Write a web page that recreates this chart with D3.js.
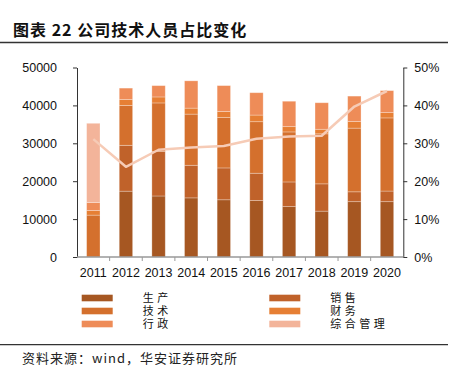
<!DOCTYPE html>
<html><head><meta charset="utf-8">
<script src="https://cdn.jsdelivr.net/npm/d3@7"></script>
<style>body{margin:0;background:#fff}svg{display:block}</style>
</head><body>
<svg id="c" width="453" height="385"></svg>
<script>
const years = ["2011","2012","2013","2014","2015","2016","2017","2018","2019","2020"];
const production = [0, 17370, 16100, 15600, 15100, 14900, 13300, 12100, 14600, 14600];
const sales      = [0, 12100, 11750, 8600, 8400, 7200, 6500, 7200, 2600, 2800];
const technical  = [11050, 10530, 12800, 13500, 13300, 13600, 13200, 13200, 16800, 19300];
const finance    = [1230, 1580, 1580, 1580, 1580, 1750, 1400, 1200, 1750, 1400];
const admin      = [2100, 2980, 2980, 7200, 6840, 5900, 6700, 7000, 6700, 5800];
const general    = [20900, 0, 0, 0, 0, 0, 0, 0, 0, 0];
const techRatio  = [0.311, 0.238, 0.283, 0.289, 0.293, 0.312, 0.318, 0.320, 0.397, 0.438];
const leftTicks  = [0, 10000, 20000, 30000, 40000, 50000];
const rightTicks = [0, 0.1, 0.2, 0.3, 0.4, 0.5];
const seriesNames = ["生产","销售","技术","财务","行政","综合管理"];
const seriesColors = ["#a65722","#c0622a","#d4702d","#e67f34","#ee8c58","#f3b49a"];

const svg = d3.select("#c");
const cn = "'Noto Sans CJK SC', sans-serif";
const lat = "'Liberation Sans', Arial, sans-serif";

// title
svg.append("text").attr("x",13).attr("y",36).attr("font-family",cn).attr("font-weight","bold")
  .attr("font-size",16).attr("letter-spacing",1).attr("fill","#111").text("图表 22 公司技术人员占比变化");
svg.append("line").attr("x1",0).attr("x2",448).attr("y1",42.5).attr("y2",42.5).attr("stroke","#333").attr("stroke-width",1.5);

const x = d3.scaleBand().domain(years).range([77,403.3]).paddingInner(0.59).paddingOuter(0.295);
const y = d3.scaleLinear().domain([0,50000]).range([257,67.5]);
const yr = d3.scaleLinear().domain([0,0.5]).range([257,67.5]);

const table = years.map((yv,i)=>({year:yv, "生产":production[i], "销售":sales[i], "技术":technical[i], "财务":finance[i], "行政":admin[i], "综合管理":general[i]}));
const stack = d3.stack().keys(seriesNames)(table);
const color = d3.scaleOrdinal().domain(seriesNames).range(seriesColors);

svg.append("g").selectAll("g").data(stack).join("g").attr("fill",d=>color(d.key))
  .selectAll("rect").data(d=>d).join("rect")
  .attr("x",d=>x(d.data.year)).attr("width",x.bandwidth())
  .attr("y",d=>y(d[1])).attr("height",d=>Math.max(0,y(d[0])-y(d[1])))
  .attr("stroke","rgba(255,255,255,0.35)").attr("stroke-width",0.8);

// line
const line = d3.line().x((d,i)=>x(years[i])+x.bandwidth()/2).y(d=>yr(d));
svg.append("path").datum(techRatio).attr("d",line).attr("fill","none")
  .attr("stroke","#f6cbb6").attr("stroke-width",2.5).attr("stroke-linejoin","round");

// left axis
const gl = svg.append("g").attr("transform","translate(77,0)")
  .call(d3.axisLeft(y).tickValues(leftTicks).tickFormat(d3.format("d")).tickSize(4).tickPadding(16).tickSizeOuter(0));
gl.select(".domain").attr("stroke","#333");
gl.selectAll(".tick line").attr("stroke","#333");
gl.selectAll("text").attr("font-family",lat).attr("font-size",12.5).attr("fill","#111");

// right axis
const gr = svg.append("g").attr("transform","translate(403.3,0)")
  .call(d3.axisRight(yr).tickValues(rightTicks).tickFormat(d3.format(".0%")).tickSize(4).tickPadding(7).tickSizeOuter(0));
gr.select(".domain").attr("stroke","#333");
gr.selectAll(".tick line").attr("stroke","#333");
gr.selectAll("text").attr("font-family",lat).attr("font-size",12.5).attr("fill","#111");

// x axis
const step = x.step();
const gx = svg.append("g");
gx.append("line").attr("x1",77).attr("x2",403.3).attr("y1",257).attr("y2",257).attr("stroke","#999").attr("stroke-width",1.5);
gx.selectAll("line.t").data(years.slice(1)).join("line").attr("class","t")
  .attr("x1",d=>x(d)-step*0.295).attr("x2",d=>x(d)-step*0.295)
  .attr("y1",257).attr("y2",261).attr("stroke","#999");
gx.selectAll("text").data(years).join("text")
  .attr("x",d=>x(d)+x.bandwidth()/2).attr("y",277).attr("text-anchor","middle")
  .attr("font-family",lat).attr("font-size",12.5).attr("fill","#111").text(d=>d);

// legend
const legendPos = [[81.7,298],[269.3,298],[81.7,311],[269.3,311],[81.7,324],[269.3,324]];
const lg = svg.append("g");
seriesNames.forEach((n,i)=>{
  const [lx,ly] = legendPos[i];
  lg.append("rect").attr("x",lx).attr("y",ly-3.3).attr("width",31).attr("height",6.6).attr("fill",color(n));
  lg.append("text").attr("x",lx+61).attr("y",ly+4).attr("font-family",cn).attr("font-size",11)
    .attr("letter-spacing",3.5).attr("fill","#111").text(n);
});

// footer
svg.append("line").attr("x1",0).attr("x2",448).attr("y1",344.7).attr("y2",344.7).attr("stroke","#333").attr("stroke-width",1.2);
svg.append("text").attr("x",22).attr("y",363).attr("font-family",cn).attr("font-size",13)
  .attr("letter-spacing",1).attr("fill","#222").text("资料来源：wind，华安证券研究所");
</script>
</body></html>
